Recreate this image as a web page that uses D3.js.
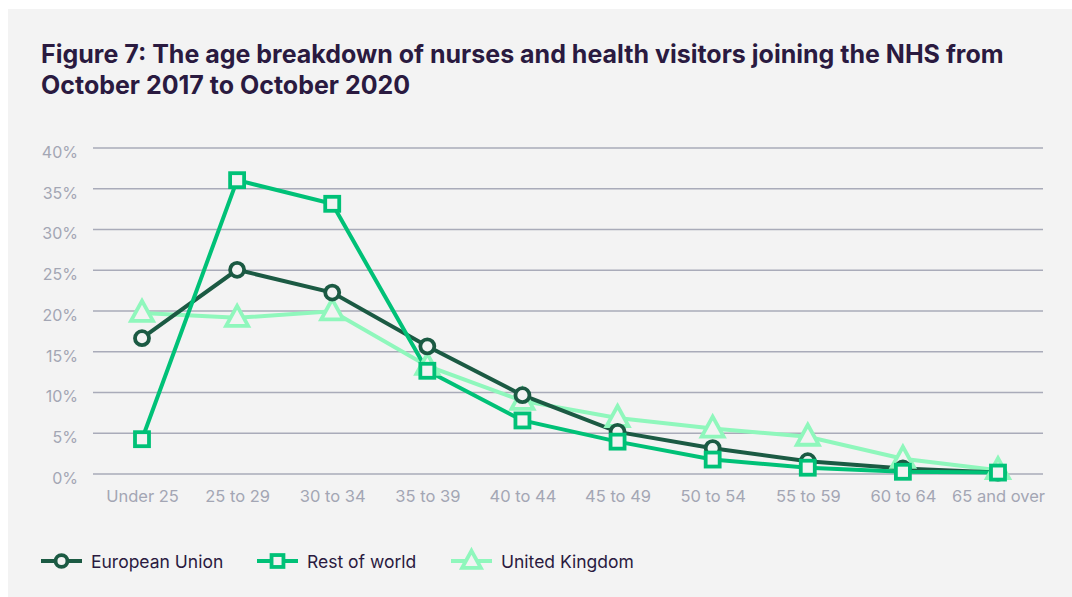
<!DOCTYPE html>
<html>
<head>
<meta charset="utf-8">
<script src="https://cdn.jsdelivr.net/npm/d3@7"></script>
<style>
  html, body { margin: 0; padding: 0; background: #fff; }
  svg { display: block; font-family: "Inter", "Lato", sans-serif; }
</style>
</head>
<body>
<div id="chart"></div>
<script>
// data
const ageGroups = ["Under 25", "25 to 29", "30 to 34", "35 to 39", "40 to 44", "45 to 49", "50 to 54", "55 to 59", "60 to 64", "65 and over"];
const europeanUnion = [16.6, 25.0, 22.2, 15.6, 9.6, 5.1, 3.1, 1.5, 0.6, 0.1];
const restOfWorld = [4.2, 36.0, 33.1, 12.6, 6.5, 3.9, 1.7, 0.7, 0.2, 0.1];
const unitedKingdom = [19.7, 19.1, 19.9, 13.2, 8.9, 6.8, 5.5, 4.5, 1.8, 0.4];
const yTicks = [0, 5, 10, 15, 20, 25, 30, 35, 40];

const series = [
  { name: "European Union", values: europeanUnion, color: "#1b5a43", shape: "circle" },
  { name: "Rest of world", values: restOfWorld, color: "#00c177", shape: "square" },
  { name: "United Kingdom", values: unitedKingdom, color: "#8ff7bc", shape: "triangle" }
];

const W = 1072, H = 597;
const margin = { top: 147.6, right: 29, bottom: 123.6, left: 93 };
const width = W - margin.left - margin.right;
const height = H - margin.top - margin.bottom;

const svg = d3.select("#chart").append("svg")
  .attr("width", W)
  .attr("height", H);

// panel background
svg.append("rect")
  .attr("x", 8).attr("y", 9)
  .attr("width", W - 8).attr("height", H - 9)
  .attr("fill", "#f3f3f3");

// title
const title = svg.append("text")
  .attr("fill", "#2a1a40")
  .style("font-size", "25px")
  .style("font-weight", 700);
title.append("tspan").attr("x", 41).attr("y", 62.5)
  .text("Figure 7: The age breakdown of nurses and health visitors joining the NHS from");
title.append("tspan").attr("x", 41).attr("y", 93.5)
  .text("October 2017 to October 2020");

const g = svg.append("g")
  .attr("transform", `translate(${margin.left},${margin.top})`);

const x = d3.scalePoint()
  .domain(ageGroups)
  .range([49, width - 45]);

const y = d3.scaleLinear()
  .domain([0, 40])
  .range([height, 0]);

// gridlines + y labels
const yAxis = g.append("g")
  .call(d3.axisLeft(y).tickValues(yTicks).tickSize(-width).tickFormat(d => d + "%").tickPadding(15));
yAxis.select(".domain").remove();
yAxis.selectAll(".tick line").attr("stroke", "#a9abb9").attr("stroke-width", 1.5);
yAxis.selectAll(".tick text")
  .attr("fill", "#a3a6b4")
  .attr("dy", "0.62em")
  .style("font-size", "16px")
  .style("font-family", "Inter, sans-serif");

// x labels
const xAxis = g.append("g")
  .attr("transform", `translate(0,${height})`)
  .call(d3.axisBottom(x).tickSize(0).tickPadding(17));
xAxis.select(".domain").remove();
xAxis.selectAll(".tick text")
  .attr("fill", "#a3a6b4")
  .style("font-size", "16.5px")
  .style("font-family", "Inter, sans-serif");

const line = d3.line()
  .x((d, i) => x(ageGroups[i]))
  .y(d => y(d));

function drawMarker(sel, shape, color, scale = 1) {
  if (shape === "circle") {
    sel.append("circle").attr("r", 7 * scale)
      .attr("fill", "#f3f3f3").attr("stroke", color).attr("stroke-width", 3.8);
  } else if (shape === "square") {
    const s = 14 * scale;
    sel.append("rect").attr("x", -s / 2).attr("y", -s / 2).attr("width", s).attr("height", s)
      .attr("fill", "#f3f3f3").attr("stroke", color).attr("stroke-width", 3.8);
  } else {
    sel.append("path").attr("d", `M0,${-12 * scale}L${11 * scale},${8 * scale}L${-11 * scale},${8 * scale}Z`)
      .attr("fill", "#f3f3f3").attr("stroke", color).attr("stroke-width", 3.8)
      .attr("stroke-linejoin", "miter");
  }
}

// light series first so the darker ones sit on top, as in the figure
const drawOrder = [series[2], series[0], series[1]];
drawOrder.forEach(s => {
  g.append("path")
    .datum(s.values)
    .attr("fill", "none")
    .attr("stroke", s.color)
    .attr("stroke-width", 4)
    .attr("d", line);
});
drawOrder.forEach(s => {
  g.selectAll(null)
    .data(s.values)
    .join("g")
    .attr("transform", (d, i) => `translate(${x(ageGroups[i])},${y(d)})`)
    .each(function () { drawMarker(d3.select(this), s.shape, s.color); });
});

// legend
const legendX = [41, 257, 451];
const legend = svg.append("g").attr("transform", "translate(0,561)");
series.forEach((s, i) => {
  const lg = legend.append("g").attr("transform", `translate(${legendX[i]},0)`);
  lg.append("line").attr("x1", 0).attr("x2", 41)
    .attr("stroke", s.color).attr("stroke-width", 4);
  const m = lg.append("g").attr("transform", "translate(20.5,0)");
  drawMarker(m, s.shape, s.color, 0.85);
  lg.append("text")
    .attr("x", 50)
    .attr("y", 6.5)
    .attr("fill", "#2a1a40")
    .style("font-size", "17.5px")
    .text(s.name);
});
</script>
</body>
</html>
